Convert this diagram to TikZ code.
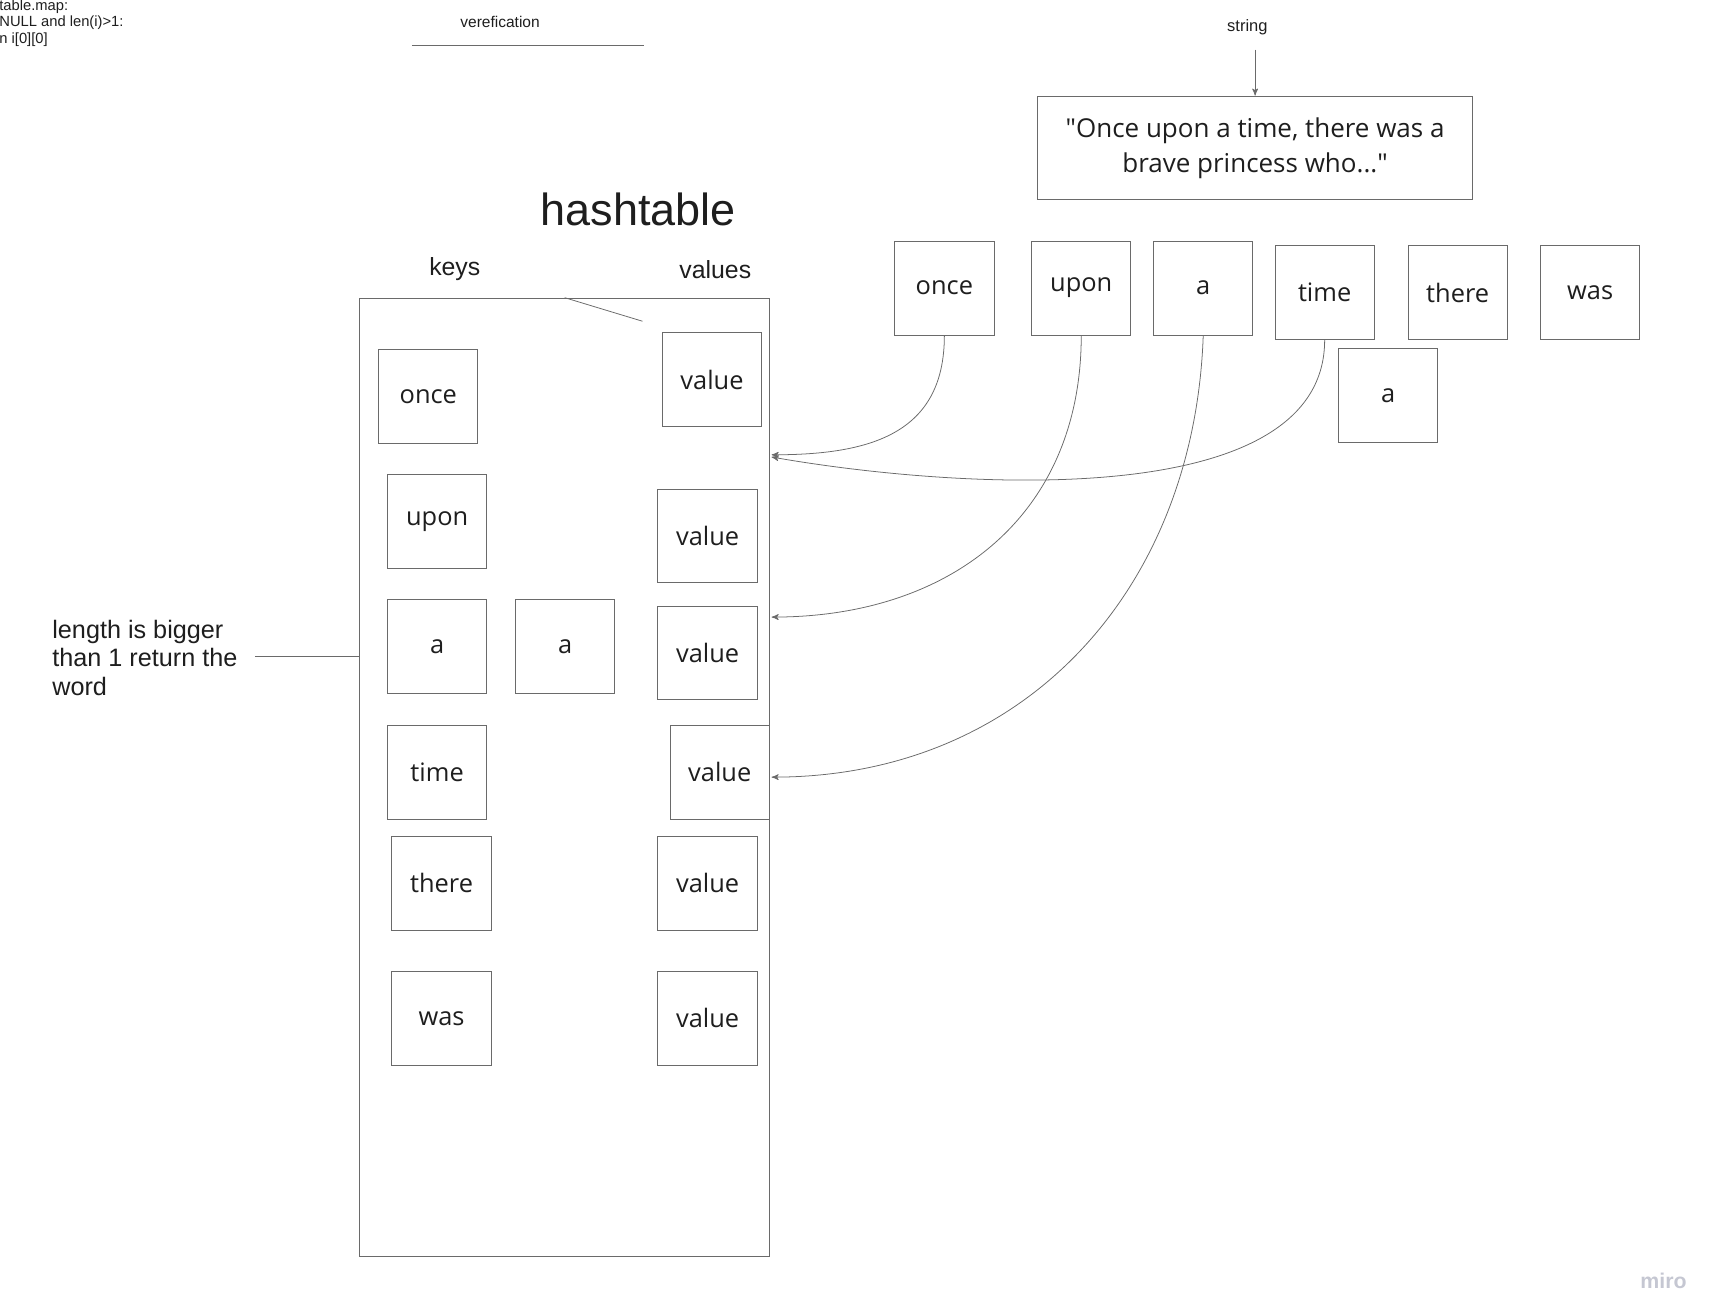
\documentclass[tikz,border=0pt]{standalone}
\usepackage{fontspec}
\setmainfont{Liberation Sans}
\newfontfamily\boxfont{Open Sans}
\usepackage{xcolor}
\usetikzlibrary{arrows}
\usetikzlibrary{positioning}
\definecolor{linegray}{HTML}{6A6A6A}
\definecolor{inkgray}{HTML}{1E1E1E}
\definecolor{logogray}{HTML}{C5C7D2}

\begin{document}
\begin{tikzpicture}[x=0.02cm,y=-0.02cm,->,>=stealth',shorten >=0pt,
  line width=0.5pt,
  word node/.style={rectangle,draw=linegray,minimum width=1.8cm,minimum height=1.7cm,
    inner sep=0pt,text=inkgray,font=\boxfont\fontsize{13.1}{15}\selectfont},
  label text/.style={inner sep=0pt,text=inkgray,font=\fontsize{12.8}{15}\selectfont},
  small text/.style={inner sep=0pt,text=inkgray,font=\fontsize{8}{8.5}\selectfont}]

  \useasboundingbox (0,0) rectangle (1550,1190);

  % code note and verification
  \node[small text,font=\fontsize{7.6}{8.3}\selectfont,align=left,anchor=west] (code) at (-1,21) {table.map:\\NULL and len(i)>1:\\n i[0][0]};
  \node[small text] (ver) at (453,20) {verefication};
  \coordinate (ver1) at (373,41);
  \coordinate (ver2) at (583,41);
  \draw[-,draw=linegray] (ver1) -- (ver2);

  % input string
  \node[small text,font=\fontsize{8.5}{9}\selectfont] (str) at (1130,25) {string};
  \node[rectangle,draw=linegray,minimum width=7.88cm,minimum height=1.88cm,inner sep=0pt,
    align=center,text=inkgray,font=\boxfont\fontsize{13.4}{18.2}\selectfont] (sbox) at (1137,134)
    {"Once upon a time, there was a\\brave princess who..."};
  \coordinate (s1) at (1137,45);
  \draw[draw=linegray,line width=0.4pt] (s1) -- (sbox.north);

  % hashtable
  \node[inner sep=0pt,text=inkgray,font=\fontsize{23.2}{26}\selectfont] (title) at (578,190) {hashtable};
  \node[label text] (keys) at (412,244) {keys};
  \node[label text] (vals) at (648,244) {values};
  \node[rectangle,draw=linegray,minimum width=7.42cm,minimum height=17.36cm,inner sep=0pt] (table) at (511.5,704) {};
  \coordinate (d1) at (582,291);
  \draw[-,draw=linegray,line width=0.4pt] (table.north) -- (d1);

  % keys
  \node[word node] (k1) at (388,359) {once};
  \node[word node] (k2) at (396,472.5) {upon};
  \node[word node] (k3) at (396,586) {a};
  \node[word node] (k4) at (512,586) {a};
  \node[word node] (k5) at (396,699.5) {time};
  \node[word node] (k6) at (400,800) {there};
  \node[word node] (k7) at (400,922.5) {was};

  % values
  \node[word node] (v1) at (645,344) {value};
  \node[word node] (v2) at (641,485.5) {value};
  \node[word node] (v3) at (641,591.5) {value};
  \node[word node] (v4) at (652,699.5) {value};
  \node[word node] (v5) at (641,800) {value};
  \node[word node] (v6) at (641,922.5) {value};

  % split words
  \node[word node] (w1) at (855.5,261) {once};
  \node[word node] (w2) at (979.5,261) {upon};
  \node[word node] (w3) at (1090,261) {a};
  \node[word node] (w4) at (1200,265) {time};
  \node[word node] (w5) at (1320.5,265) {there};
  \node[word node] (w6) at (1440.5,265) {was};
  \node[word node] (w7) at (1257.5,358.5) {a};

  % note on the left
  \node[label text,font=\fontsize{13}{14.5}\selectfont,align=left,anchor=west] (note) at (47,596)
    {length is bigger\\than 1 return the\\word};
  \coordinate (n1) at (231,595);
  \draw[-,draw=linegray,line width=0.4pt] (n1) -- (n1 -| table.west);

  % hashed words into the table
  \coordinate (e1) at (699,412);
  \coordinate (e2) at (699,414);
  \coordinate (e3) at (699,559);
  \coordinate (e4) at (699,704);
  \path[color=linegray,line width=0.4pt]
    (w1.south) edge [out=270,in=0,looseness=1.2] (e1)
    (w4.south) edge [out=270,in=-10,looseness=0.8] (e2)
    (w2.south) edge [out=270,in=0,looseness=1.1] (e3)
    (w3.south) edge [out=268,in=0,looseness=1.05] (e4);

  \node[inner sep=0pt,text=logogray,font=\bfseries\fontsize{11}{12}\selectfont] (logo) at (1507,1160) {miro};
\end{tikzpicture}
\end{document}
